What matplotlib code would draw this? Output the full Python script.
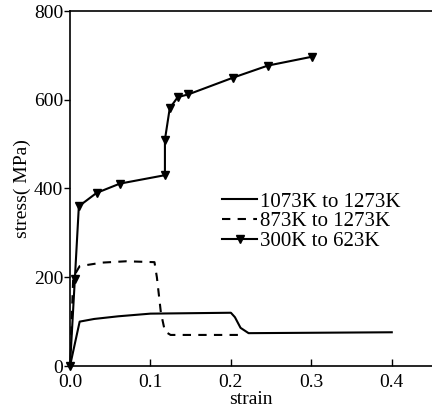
import matplotlib
matplotlib.use("Agg")
import matplotlib.pyplot as plt

plt.rcParams['font.family'] = ['Liberation Serif', 'DejaVu Serif']

# 1073K to 1273K (solid)
strain_a = [0.0, 0.012, 0.03, 0.06, 0.1, 0.2, 0.205, 0.212, 0.222, 0.4]
stress_a = [0, 100, 106, 112, 118, 120, 110, 86, 74, 76]

# 873K to 1273K (dashed)
strain_b = [0.0, 0.004, 0.012, 0.04, 0.07, 0.105, 0.108, 0.113, 0.118, 0.125, 0.21]
stress_b = [0, 200, 225, 233, 236, 234, 200, 120, 78, 70, 70]

# 300K to 623K (triangles)
strain_c = [0.0, 0.006, 0.011, 0.033, 0.062, 0.118, 0.118, 0.124, 0.134, 0.147, 0.203, 0.246, 0.301]
stress_c = [0, 195, 360, 390, 411, 430, 510, 581, 606, 612, 650, 677, 697]

labels = ['1073K to 1273K', '873K to 1273K', '300K to 623K']

fig = plt.figure(figsize=(4.32, 4.15), dpi=100)
ax = fig.add_axes([70 / 432, 1 - 366 / 415, 1 - 70 / 432, (366 - 11) / 415])

ax.plot(strain_a, stress_a, color='black', lw=1.5, label=labels[0])
ax.plot(strain_b, stress_b, color='black', lw=1.5, dashes=(4, 3.5), label=labels[1])
ax.plot(strain_c, stress_c, color='black', lw=1.5, marker='v', markersize=6,
        label=labels[2], clip_on=False)

ax.set_xlim(0, 0.45)
ax.set_ylim(0, 800)
ax.set_xticks([0.0, 0.1, 0.2, 0.3, 0.4])
ax.set_xticklabels(['0.0', '0.1', '0.2', '0.3', '0.4'])
ax.set_yticks([0, 200, 400, 600, 800])
ax.tick_params(axis='x', direction='in', length=5, width=1, labelsize=14, pad=6)
ax.tick_params(axis='y', direction='out', length=4, width=1, labelsize=14, pad=1)

ax.spines['right'].set_visible(False)
for s in ['left', 'bottom', 'top']:
    ax.spines[s].set_linewidth(1.2)

ax.set_xlabel('strain', fontsize=14, labelpad=0)
ax.set_ylabel('stress( MPa)', fontsize=14, labelpad=2)

ax.legend(loc='upper left', bbox_to_anchor=(0.42, 0.49), frameon=False,
          fontsize=15, handlelength=1.7, handletextpad=0.12,
          labelspacing=0.0, borderpad=0, borderaxespad=0)

fig.savefig('out.png', dpi=100)
